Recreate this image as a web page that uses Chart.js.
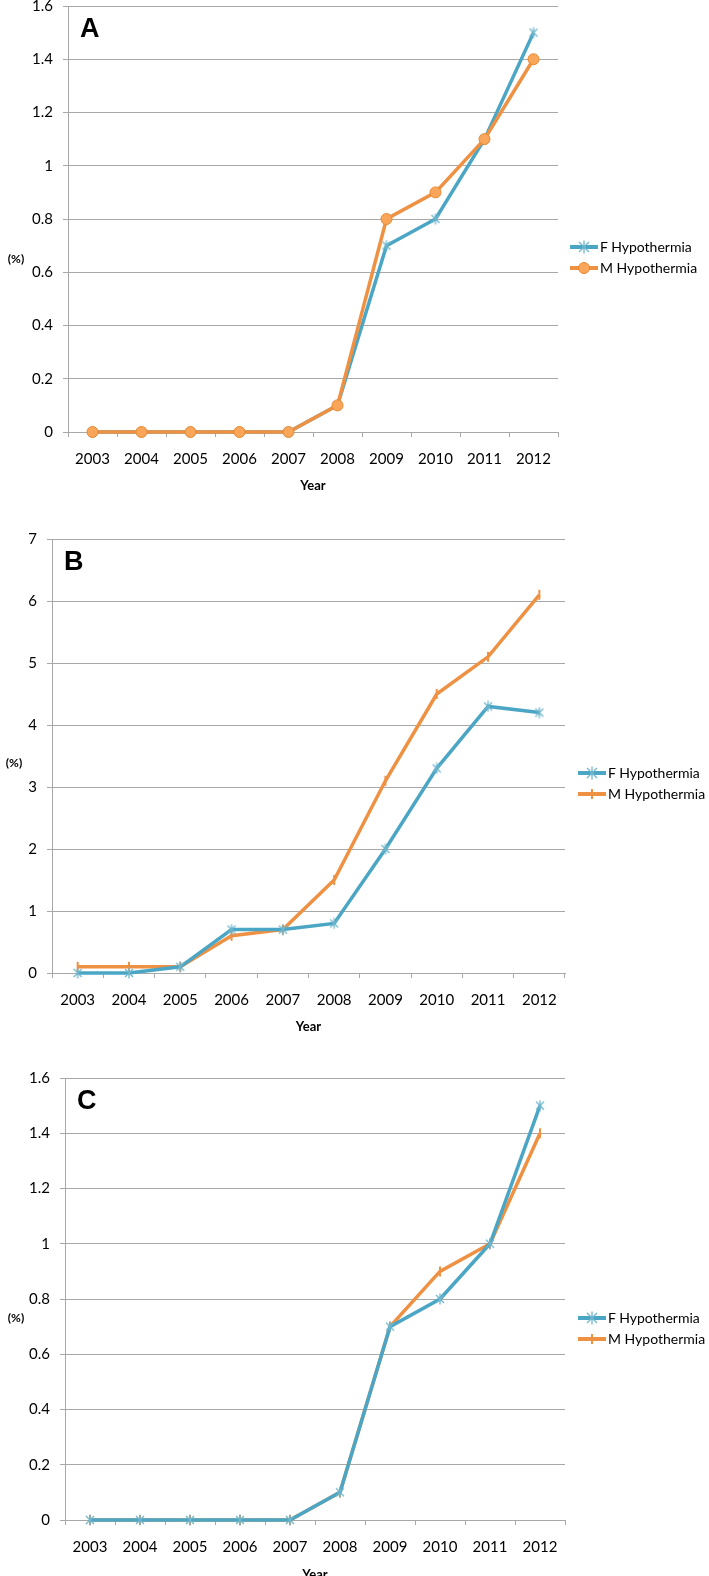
<!DOCTYPE html>
<html>
<head>
<meta charset="utf-8">
<script src="https://cdn.jsdelivr.net/npm/chart.js@4.4.1/dist/chart.umd.min.js"></script>
<style>
  html, body { margin: 0; padding: 0; background: #fff; }
  #page { position: relative; width: 709px; height: 1576px; overflow: hidden; font-family: Lato, "Liberation Sans", sans-serif; }
  canvas { position: absolute; left: 0; }
  .letter { position: absolute; font: bold 27px "Liberation Sans", Arial, sans-serif; color: #000; line-height: 1; }
  .pct { position: absolute; font: bold 12px Lato, sans-serif; color: #000; transform: translate(-50%, -50%); }
  .legend { position: absolute; font: 14px Lato, sans-serif; color: #000; }
  .legend div { height: 21px; display: flex; align-items: center; white-space: nowrap; }
  .legend svg { margin-right: 2px; }
</style>
</head>
<body>
<div id="page">
  <canvas id="chartA"></canvas>
  <canvas id="chartB"></canvas>
  <canvas id="chartC"></canvas>
</div>
<script>
// data
const years = ['2003', '2004', '2005', '2006', '2007', '2008', '2009', '2010', '2011', '2012'];

const femaleA = [0, 0, 0, 0, 0, 0.1, 0.7, 0.8, 1.1, 1.5];
const maleA   = [0, 0, 0, 0, 0, 0.1, 0.8, 0.9, 1.1, 1.4];

const femaleB = [0, 0, 0.1, 0.7, 0.7, 0.8, 2.0, 3.3, 4.3, 4.2];
const maleB   = [0.1, 0.1, 0.1, 0.6, 0.7, 1.5, 3.1, 4.5, 5.1, 6.1];

const femaleC = [0, 0, 0, 0, 0, 0.1, 0.7, 0.8, 1.0, 1.5];
const maleC   = [0, 0, 0, 0, 0, 0.1, 0.7, 0.9, 1.0, 1.4];

const ticksSmall = ['0', '0.2', '0.4', '0.6', '0.8', '1', '1.2', '1.4', '1.6'];
const ticksB = ['0', '1', '2', '3', '4', '5', '6', '7'];

const seriesNames = ['F Hypothermia', 'M Hypothermia'];

const TEAL = '#4aa6c4';
const ORANGE = '#ef9143';
const GRID = '#a8a8a8';

// excel-ish asterisk marker
function starMarker() {
    const c = document.createElement('canvas');
    c.width = 12; c.height = 12;
    const g = c.getContext('2d');
    g.strokeStyle = '#6fb6cc';
    g.lineWidth = 1.3;
    g.beginPath();
    g.moveTo(2, 2); g.lineTo(10, 10);
    g.moveTo(10, 2); g.lineTo(2, 10);
    g.moveTo(6, 0.5); g.lineTo(6, 11.5);
    g.stroke();
    return c;
}
const STAR = starMarker();

// plot geometry for each panel (page pixels)
const panels = [
    { id: 'chartA', letter: 'A', top: 6, zero: 432, left: 68, right: 558, yearY: 486,
      female: femaleA, male: maleA, ticks: ticksSmall, max: 1.6, step: 0.2, circle: true, femaleOnTop: false,
      legendX: 570, legendY: 246, pctX: 16, pctY: 258 },
    { id: 'chartB', letter: 'B', top: 539, zero: 973, left: 52, right: 565, yearY: 1027,
      female: femaleB, male: maleB, ticks: ticksB, max: 7, step: 1, circle: false, femaleOnTop: true,
      legendX: 578, legendY: 772, pctX: 14, pctY: 762 },
    { id: 'chartC', letter: 'C', top: 1078, zero: 1520, left: 65, right: 565, yearY: 1575,
      female: femaleC, male: maleC, ticks: ticksSmall, max: 1.6, step: 0.2, circle: false, femaleOnTop: true,
      legendX: 578, legendY: 1317, pctX: 16, pctY: 1317 }
];

const AXIS_H = 70;
const PAD_TOP = 20;

function legendSvg(color, kind) {
    let marker = '';
    if (kind === 'star') {
        marker = '<path d="M9 2 L19 12 M19 2 L9 12 M14 0.5 L14 13.5" stroke="#6fb6cc" stroke-width="1.3" fill="none"/>';
    } else if (kind === 'circle') {
        marker = '<circle cx="14" cy="7" r="5.5" fill="#f9a65a" stroke="#e8892f" stroke-width="1"/>';
    } else {
        marker = '<line x1="14" y1="2" x2="14" y2="12" stroke="' + color + '" stroke-width="2"/>';
    }
    return '<svg width="28" height="14"><line x1="0" y1="7" x2="28" y2="7" stroke="' + color + '" stroke-width="4"/>' + marker + '</svg>';
}

function buildPanel(p) {
    const page = document.getElementById('page');
    const canvas = document.getElementById(p.id);
    const canvasTop = p.top - PAD_TOP;
    canvas.width = 709;
    canvas.height = p.zero + AXIS_H - canvasTop;
    canvas.style.top = canvasTop + 'px';

    const titleFont = { family: 'Lato', size: 13, weight: 'bold' };
    const titlePadBottom = p.zero + AXIS_H - 7.8 - p.yearY;

    const female = {
        label: seriesNames[0],
        data: p.female,
        borderColor: TEAL,
        backgroundColor: TEAL,
        borderWidth: 3.5,
        pointStyle: STAR,
        pointRadius: 6,
        tension: 0,
        clip: false,
        order: p.femaleOnTop ? 0 : 1
    };
    const male = {
        label: seriesNames[1],
        data: p.male,
        borderColor: ORANGE,
        backgroundColor: ORANGE,
        borderWidth: 3.5,
        tension: 0,
        clip: false,
        order: p.femaleOnTop ? 1 : 0
    };
    if (p.circle) {
        male.pointStyle = 'circle';
        male.pointRadius = 5.5;
        male.pointBackgroundColor = '#f9a65a';
        male.pointBorderColor = '#e8892f';
        male.pointBorderWidth = 1;
    } else {
        male.pointStyle = 'line';
        male.pointRotation = 90;
        male.pointRadius = 5;
        male.pointBorderWidth = 2;
    }

    new Chart(canvas, {
        type: 'line',
        data: { labels: years, datasets: [female, male] },
        options: {
            responsive: false,
            animation: false,
            devicePixelRatio: 1,
            layout: { padding: { top: PAD_TOP, left: 0, right: 709 - p.right, bottom: 0 } },
            plugins: { legend: { display: false }, tooltip: { enabled: false } },
            scales: {
                x: {
                    offset: true,
                    grid: { display: true, offset: true, drawOnChartArea: false, tickLength: 5, color: GRID },
                    border: { display: true, color: GRID, width: 1 },
                    ticks: { color: '#000', font: { family: 'Lato', size: 15 }, padding: 13, maxRotation: 0, autoSkip: false },
                    title: { display: true, text: 'Year', color: '#000', font: titleFont, padding: { top: 0, bottom: titlePadBottom } },
                    afterFit: s => { s.height = AXIS_H; }
                },
                y: {
                    min: 0,
                    max: p.max,
                    grid: { color: GRID, tickLength: 5, lineWidth: 1 },
                    border: { display: true, color: GRID, width: 1 },
                    ticks: {
                        stepSize: p.step,
                        color: '#000',
                        font: { family: 'Lato', size: 15 },
                        padding: 10,
                        callback: (v, i) => p.ticks[i]
                    },
                    afterFit: s => { s.width = p.left; }
                }
            }
        }
    });

    const letter = document.createElement('div');
    letter.className = 'letter';
    letter.textContent = p.letter;
    letter.style.left = (p.left + 12) + 'px';
    letter.style.top = (p.top + 9) + 'px';
    page.appendChild(letter);

    const pct = document.createElement('div');
    pct.className = 'pct';
    pct.textContent = '(%)';
    pct.style.left = p.pctX + 'px';
    pct.style.top = p.pctY + 'px';
    page.appendChild(pct);

    const legend = document.createElement('div');
    legend.className = 'legend';
    legend.style.left = p.legendX + 'px';
    legend.style.top = (p.legendY - 10) + 'px';
    legend.innerHTML =
        '<div>' + legendSvg(TEAL, 'star') + '<span>' + seriesNames[0] + '</span></div>' +
        '<div>' + legendSvg(ORANGE, p.circle ? 'circle' : 'line') + '<span>' + seriesNames[1] + '</span></div>';
    page.appendChild(legend);
}

panels.forEach(buildPanel);
</script>
</body>
</html>
